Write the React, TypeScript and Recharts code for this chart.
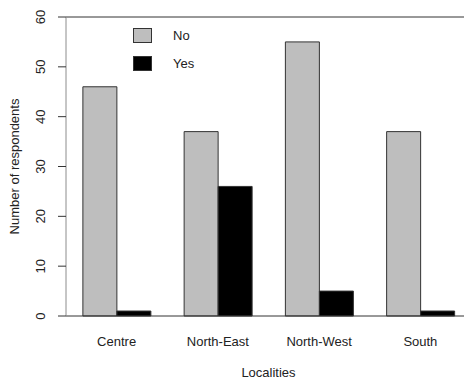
import { BarChart, Bar, XAxis, YAxis, ReferenceLine } from "recharts";

// respondents per locality
const LOCALITIES = ["Centre", "North-East", "North-West", "South"];
const NO_COUNTS = [46, 37, 55, 37];
const YES_COUNTS = [1, 26, 5, 1];
const Y_TICKS = [0, 10, 20, 30, 40, 50, 60];
const SERIES = [
  { key: "No", fill: "#bebebe" },
  { key: "Yes", fill: "#000" },
];

const FONT = "'Liberation Sans', Arial, sans-serif";

const data = LOCALITIES.map((name, i) => ({ name, No: NO_COUNTS[i], Yes: YES_COUNTS[i] }));

const XTick = (props: any) => {
  const { x, y, payload } = props;
  return (
    <text x={x} y={y + 30} textAnchor="middle" fontSize={13} fontFamily={FONT} fill="#222">
      {payload.value}
    </text>
  );
};

const YTick = (props: any) => {
  const { x, y, payload } = props;
  return (
    <text
      x={x - 13}
      y={y}
      transform={`rotate(-90, ${x - 13}, ${y})`}
      textAnchor="middle"
      fontSize={13}
      fontFamily={FONT}
      fill="#222"
    >
      {payload.value}
    </text>
  );
};

// legend sits inside the plot, so keep it out of recharts' layout
const LegendBox = () => (
  <div style={{ position: "absolute", left: 133, top: 21, fontFamily: FONT, fontSize: 13, color: "#222" }}>
    {SERIES.map((item) => (
      <div key={item.key} style={{ display: "flex", alignItems: "center", height: 28 }}>
        <div
          style={{
            width: 17,
            height: 13,
            background: item.fill,
            border: "1px solid #333",
            marginRight: 21,
          }}
        />
        <span>{item.key}</span>
      </div>
    ))}
  </div>
);

export default function App() {
  return (
    <div style={{ position: "absolute", left: 0, top: 0, width: 464, height: 381, overflow: "hidden", background: "#fff" }}>
      <BarChart
        width={480}
        height={381}
        data={data}
        margin={{ top: 17, right: 9, bottom: 0, left: 0 }}
        barCategoryGap="16.67%"
        barGap={0}
      >
        <XAxis
          dataKey="name"
          height={65}
          axisLine={false}
          tickLine={false}
          tickSize={0}
          tickMargin={0}
          tick={<XTick />}
          label={{
            value: "Localities",
            position: "insideBottom",
            offset: 4,
            fontSize: 13,
            fontFamily: FONT,
            fill: "#222",
          }}
        />
        <YAxis
          width={66}
          domain={[0, 60]}
          ticks={Y_TICKS}
          interval={0}
          tickSize={8}
          tickMargin={0}
          axisLine={{ stroke: "#8c8c8c" }}
          tickLine={{ stroke: "#333" }}
          tick={<YTick />}
          label={{
            value: "Number of respondents",
            angle: -90,
            position: "insideLeft",
            offset: 14,
            fontSize: 13,
            fontFamily: FONT,
            fill: "#222",
            style: { textAnchor: "middle" },
          }}
        />
        <ReferenceLine y={60} stroke="#333" />
        <ReferenceLine y={0} stroke="#333" />
        {SERIES.map((s) => (
          <Bar key={s.key} dataKey={s.key} fill={s.fill} stroke="#333" strokeWidth={1} isAnimationActive={false} />
        ))}
      </BarChart>
      <LegendBox />
    </div>
  );
}
